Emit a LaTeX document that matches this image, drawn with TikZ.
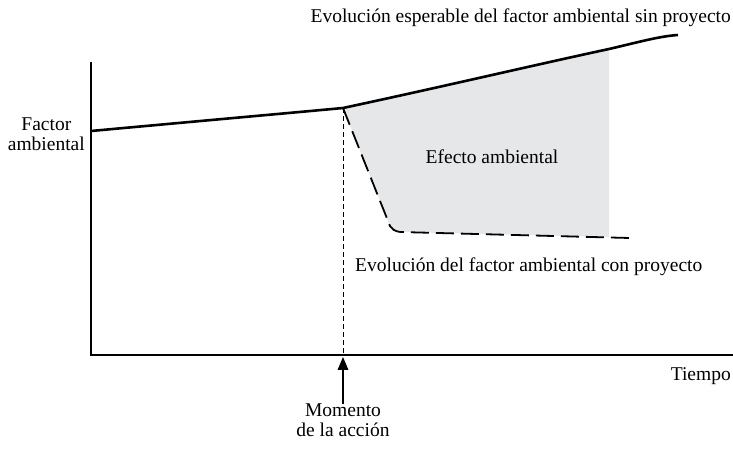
\documentclass[tikz,border=0pt]{standalone}
\usepackage{fontspec}
\setmainfont{Liberation Serif}
\usetikzlibrary{arrows}
\definecolor{efectogris}{RGB}{230,231,232}
\tikzstyle{label}   = [font=\fontsize{19.5}{20}\selectfont, inner sep=0pt, align=center]
\tikzstyle{axis}    = [line width=2.4pt]
\tikzstyle{curve}   = [line width=2.6pt]
\tikzstyle{withproj}= [line width=1.8pt, dash pattern=on 18pt off 7pt]
\tikzstyle{guide}   = [line width=0.8pt, dash pattern=on 5pt off 3pt]
\tikzstyle{arrow}   = [line width=2pt,-triangle 45]

\begin{document}
\begin{tikzpicture}[x=1pt,y=-1pt]

    \useasboundingbox (0,0) rectangle (733,450);

    % coordinates (in pixels of the layout)
    \coordinate (origin) at (91,355);
    \coordinate (ytop)   at (91,62);
    \coordinate (xend)   at (733,355);
    \coordinate (start)  at (91,131);
    \coordinate (action) at (343,108);
    \coordinate (upper)  at (609,49);
    \coordinate (final)  at (678,35);
    \coordinate (knee)   at (390,226);
    \coordinate (lowerr) at (609,237);
    \coordinate (lowend) at (630,238);
    \coordinate (onaxis) at (343,357);

    % shaded effect
    \fill [efectogris] (action) .. controls (450,85) and (530,66) .. (upper)
        -- (lowerr) -- (400,232) .. controls (392,231) and (390,229) .. (knee) -- cycle;

    \node (factor)   [label, anchor=east] at (85,134)  {Factor\\ambiental};
    \node (tiempo)   [label, anchor=east] at (731,376)  {Tiempo};
    \node (momento)  [label, anchor=north] at (343,404) {Momento\\de la acci\'on};
    \node (sinproy)  [label, anchor=east] at (731,18)
        {Evoluci\'on esperable del factor ambiental sin proyecto};
    \node (conproy)  [label, anchor=west] at (355,267)
        {Evoluci\'on del factor ambiental con proyecto};
    \node (efecto)   [label] at (492,157) {Efecto ambiental};

    % axes
    \draw [axis] (ytop) -- (origin) -- (xend);

    % evolution without project
    \draw [curve] (start) .. controls (200,121) and (300,112) .. (action)
        .. controls (450,85) and (530,66) .. (upper)
        .. controls (635,43) and (660,36) .. (final);

    % evolution with project
    \draw [withproj] (action) -- (knee)
        .. controls (392,229) and (394,231) .. (400,232) -- (lowend);

    % moment of the action
    \draw [guide] (action) -- (origin -| action);
    \draw [arrow] (momento) -- (onaxis);

\end{tikzpicture}
\end{document}
